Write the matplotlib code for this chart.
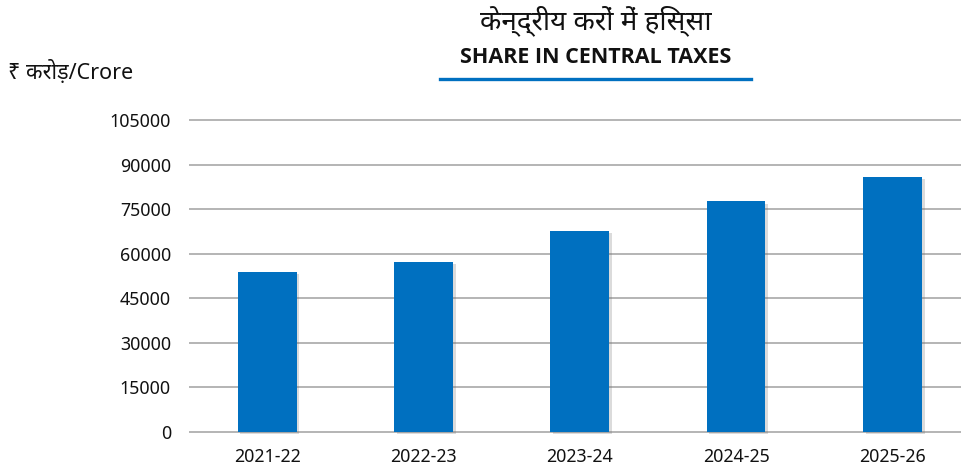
import numpy as np
import matplotlib
matplotlib.use("Agg")
import matplotlib.pyplot as plt
from matplotlib import patheffects as pe
from matplotlib.lines import Line2D

years = ['2021-22', '2022-23', '2023-24', '2024-25', '2025-26']
share = [54000, 57200, 67800, 77600, 85700]
yticks = [0, 15000, 30000, 45000, 60000, 75000, 90000, 105000]

title_hi = 'केन्द्रीय करों में हिस्सा'
title_en = 'SHARE IN CENTRAL TAXES'
unit_label = '₹ करोड़/Crore'

plt.rcParams['font.family'] = ['Noto Sans', 'Noto Sans Devanagari', 'DejaVu Sans']
blue = '#0070C0'

fig = plt.figure(figsize=(9.62, 4.70), dpi=100)
ax = fig.add_axes([0.1965, 0.0713, 0.8035, 0.6923])

x = np.arange(len(years))
bars = ax.bar(x, share, width=0.377, color=blue, zorder=3)
for b in bars:
    b.set_path_effects([pe.SimplePatchShadow(offset=(2, -1.5), shadow_rgbFace='#707070', alpha=0.25),
                        pe.Normal()])

ax.set_xlim(-0.5, 4.446)
ax.set_ylim(-1500, 108000)
ax.set_yticks(yticks)
ax.set_yticklabels([str(v) for v in yticks])
ax.set_xticks(x)
ax.set_xticklabels(years)
ax.tick_params(axis='both', length=0, labelsize=12.8, colors='#111111')
ax.tick_params(axis='y', pad=13)
ax.tick_params(axis='x', pad=8)
ax.grid(axis='y', color='#b4b4b4', linewidth=1.4, zorder=0)
for s in ax.spines.values():
    s.set_visible(False)

fig.text(0.619, 0.955, title_hi, ha='center', va='center', fontsize=20, color='#111111',
         family=['Noto Sans Devanagari', 'Noto Sans'])
fig.text(0.619, 0.877, title_en, ha='center', va='center', fontsize=15.5, fontweight='bold', color='#111111',
         family=['Open Sans', 'Fira Sans'])
fig.add_artist(Line2D([0.4574, 0.7807], [0.832, 0.832], color=blue, linewidth=2.4))
fig.text(0.008, 0.847, unit_label, ha='left', va='center', fontsize=15.5, color='#111111')

fig.savefig("out.png")
